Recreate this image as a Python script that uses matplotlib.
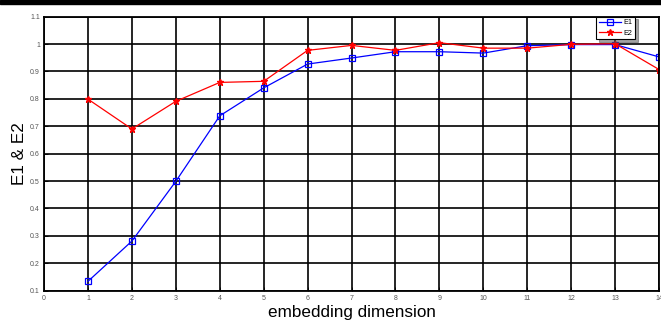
import matplotlib.pyplot as plt
from matplotlib.patches import Rectangle

# Embedding dimension sweep
dims = list(range(1, 15))
e1 = [0.134, 0.281, 0.499, 0.738, 0.840, 0.927, 0.949, 0.972, 0.972, 0.967, 0.994, 0.998, 0.998, 0.953]
e2 = [0.799, 0.690, 0.791, 0.860, 0.864, 0.977, 0.995, 0.977, 1.005, 0.985, 0.985, 0.999, 1.001, 0.907]

plt.rcParams['font.family'] = ['Liberation Sans', 'DejaVu Sans']

fig = plt.figure(figsize=(6.61, 3.2), dpi=100)
ax = fig.add_axes([0.0666, 0.0916, 0.9305, 0.8564])

# thin black strip along the top edge
fig.patches.append(Rectangle((0, 1 - 3.5 / 320), 1, 3.5 / 320, transform=fig.transFigure,
                             color='black', zorder=10))

ax.plot(dims, e1, color='blue', lw=0.9, marker='s', ms=4.5, mfc='none', mec='blue', mew=0.9, label='E1')
ax.plot(dims, e2, color='red', lw=0.9, marker='*', ms=4.5, mfc='red', mec='red', label='E2')

ax.set_xlim(0, 14)
ax.set_ylim(0.1, 1.1)
ax.set_xticks(range(0, 15))
ax.set_yticks([0.1, 0.2, 0.3, 0.4, 0.5, 0.6, 0.7, 0.8, 0.9, 1.0, 1.1])
ax.set_yticklabels(['0.1', '0.2', '0.3', '0.4', '0.5', '0.6', '0.7', '0.8', '0.9', '1', '1.1'])
ax.tick_params(direction='in', length=3, width=0.6, labelsize=5, labelcolor='#555555', pad=3)
ax.grid(True, color='black', lw=1.2, ls='-')
for s in ax.spines.values():
    s.set_linewidth(1.3)

ax.set_xlabel('embedding dimension', fontsize=12.3, labelpad=2)
ax.set_ylabel('E1 & E2', fontsize=12.3, labelpad=2)

leg = ax.legend(loc='upper right', bbox_to_anchor=(0.961, 1.0), fontsize=5.2, fancybox=False,
                shadow=True, framealpha=1, edgecolor='black', handlelength=3.0,
                borderpad=0.35, labelspacing=0.45, handletextpad=0.4, borderaxespad=0)
leg.get_frame().set_linewidth(0.8)

fig.savefig('out.png', dpi=100)
